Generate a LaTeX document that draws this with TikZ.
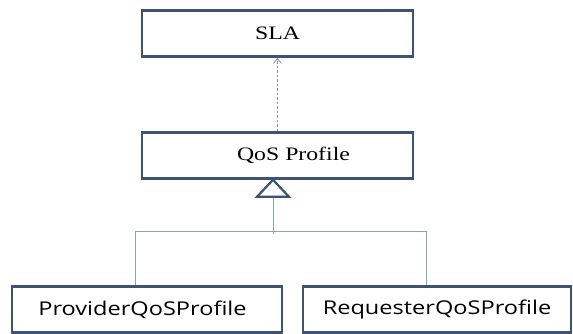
\documentclass[tikz,border=0pt]{standalone}
\usepackage{fontspec}
\usepackage{graphicx}
\setmainfont{Liberation Serif}
\newfontfamily\boxsans{Open Sans}
\usetikzlibrary{calc,arrows.meta}
\definecolor{boxline}{HTML}{3E5272}
\definecolor{conn}{HTML}{8AA3C0}
\definecolor{dashc}{HTML}{7F93AE}
\tikzset{
  umlbox/.style={draw=boxline, line width=2.6pt, fill=white, minimum width=#1, minimum height=46pt, inner sep=0pt},
  umlbox/.default=271pt,
  serifl/.style={font=\fontsize{19}{21}\selectfont},
  sansl/.style={font=\boxsans\fontsize{19}{21}\selectfont},
  conline/.style={draw=conn, line width=1pt},
}
\begin{document}
\begin{tikzpicture}[x=1pt,y=-1pt]
\useasboundingbox (0,0) rectangle (573,334);
\fill[white] (0,0) rectangle (573,334);
\node[umlbox, serifl] (sla) at (277.5,33.5) {\scalebox{1.25}[1]{SLA}};
\node[umlbox, serifl] (qos) at (277.5,155.5) {\hspace*{32pt}\scalebox{1.25}[1]{QoS Profile}};
\node[umlbox=270pt, sansl] (prov) at (147,309.5) {\hspace*{-9pt}\scalebox{1.24}[1]{ProviderQoSProfile}};
\node[umlbox=268pt, sansl] (req) at (437,309.5) {\scalebox{1.24}[1]{RequesterQoSProfile}};
% dependency
\draw[draw=dashc, line width=0.9pt, dash pattern=on 2.5pt off 2pt, -{Straight Barb[length=5pt,width=8pt,line width=0.8pt]}] (qos.north) -- (sla.south);
% generalization
\coordinate (apex) at ($(qos.south)+(-4.5,0)$);
\coordinate (base) at ($(apex)+(0,17)$);
\coordinate (join) at ($(apex)+(0,54)$);
\coordinate (lj) at ($(prov.north)+(-12,-54)$);
\coordinate (rj) at ($(req.north)+(-11,-54)$);
\draw[conline] (base) -- (join);
\draw[conline] (lj) -- (rj);
\draw[conline] (lj) -- (prov.north -| lj);
\draw[conline] (rj) -- (req.north -| rj);
\draw[draw=boxline, line width=2.2pt, fill=white, line join=miter] (apex) -- ($(base)+(-16,0)$) -- ($(base)+(16,0)$) -- cycle;
\end{tikzpicture}
\end{document}
